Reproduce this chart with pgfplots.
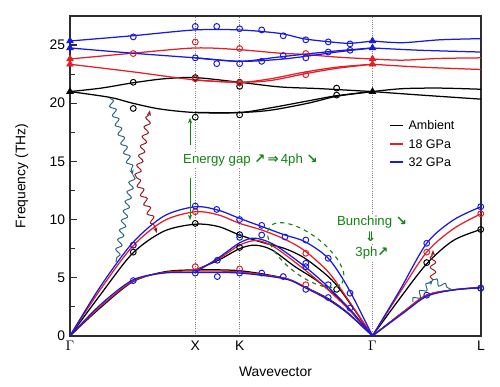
\documentclass[border=0pt]{standalone}
\usepackage{fontspec}
\setmainfont{Liberation Sans}
\newfontfamily\arrowfont{DejaVu Sans}
\usepackage{pgfplots}
\pgfplotsset{compat=1.18}
\usetikzlibrary{decorations.pathmorphing,arrows.meta,shapes.geometric}
\definecolor{cR}{RGB}{228,30,36}
\definecolor{cB}{RGB}{25,25,225}
\definecolor{cG}{RGB}{20,130,20}
\definecolor{cT}{RGB}{45,100,130}
\definecolor{cD}{RGB}{150,25,35}
\definecolor{fr}{RGB}{45,45,45}
\pgfplotsset{
 myln/.style={line width=0.9pt, smooth, no markers},
 myci/.style={only marks, mark=o, mark size=2.1pt, mark options={line width=0.7pt}},
 mytri/.style={only marks, mark=triangle*, mark size=2.8pt},
}
\tikzset{
 mywv/.style={decorate, decoration={snake, amplitude=2pt, segment length=7pt, post length=3pt}, line width=0.7pt},
 mygt/.style={fill=white, inner sep=1pt, text=cG, font=\fontsize{9.5}{11}\selectfont},
 mylg/.style={anchor=west, inner sep=0pt, font=\fontsize{9}{11}\selectfont},
}
\newcommand{\ar}[1]{{\arrowfont\bfseries #1}}
\begin{document}
\begin{tikzpicture}
\begin{scope}[x=90.244pt, y=8.378pt]
\draw[gray, densely dotted, line width=0.6pt] (1,0) -- (1,27.5);
\draw[gray, densely dotted, line width=0.6pt] (1.354,0) -- (1.354,27.5);
\draw[gray, densely dotted, line width=0.6pt] (2.414,0) -- (2.414,27.5);
\end{scope}
\begin{axis}[
 at={(0pt,0pt)}, anchor=south west,
 scale only axis, width=296pt, height=230.4pt,
 xmin=0, xmax=3.28, ymin=0, ymax=27.5,
 clip=false,
 axis line style={fr, line width=1.1pt},
 xtick={0,1,1.354,2.414,3.28},
 xticklabels={$\Gamma$,X,K,$\Gamma$,L},
 xtick style={draw=none},
 ytick={0,5,10,15,20,25},
 minor y tick num=1,
 ytick pos=left,
 tick align=inside,
 major tick length=4.8pt, minor tick length=3.4pt,
 tick style={fr, line width=0.8pt},
 tick label style={font=\fontsize{10}{12}\selectfont},
 /pgf/number format/assume math mode=true,
 xlabel={Wavevector}, ylabel={Frequency (THz)},
 label style={font=\fontsize{10}{12}\selectfont},
 xlabel style={at={(axis description cs:0.5,-0.1125)}, anchor=center},
 ylabel style={at={(axis description cs:-0.117,0.5)}, anchor=center},
]
% Ambient (black)
\addplot[myln, black] coordinates {(0,0) (0.24,3.5) (0.5,7.1) (0.75,9.0) (1,9.6) (1.184,9.4) (1.354,8.67) (1.53,8.05) (1.716,7.5) (1.875,6.67) (2.061,5.1) (2.168,3.8) (2.414,0)};
\addplot[myln, black] coordinates {(1,5.67) (1.184,6.5) (1.354,7.5) (1.476,7.8) (1.61,7.4) (1.796,5.95) (1.982,4.66) (2.168,2.95) (2.414,0)};
\addplot[myln, black] coordinates {(0,0) (0.24,2.4) (0.5,4.65) (0.75,5.5) (1,5.67) (1.354,5.6) (1.716,4.95) (1.875,4.2) (2.061,3.2) (2.221,1.95) (2.414,0)};
\addplot[myln, black] coordinates {(2.414,0) (2.631,3.2) (2.847,6.2) (3.059,8.2) (3.28,9.15)};
\addplot[myln, black] coordinates {(2.414,0) (2.665,2.1) (2.847,3.5) (3.06,3.95) (3.28,4.15)};
\addplot[myln, black] coordinates {(0,21.0) (0.25,21.3) (0.5,21.75) (0.75,22.1) (1,22.2) (1.354,21.8) (1.676,21.4) (2.0,21.25) (2.414,21.0)};
\addplot[myln, black] coordinates {(2.414,21.0) (2.65,21.25) (2.95,21.3) (3.28,21.2)};
\addplot[myln, black] coordinates {(0,21.0) (0.32,20.5) (0.5,20.0) (0.72,19.5) (1,19.2) (1.354,19.2) (1.6,19.6) (1.9,20.2) (2.13,20.65) (2.414,21.0)};
\addplot[myln, black] coordinates {(1,19.2) (1.354,19.2) (1.6,19.4) (1.9,20.0) (2.13,20.6) (2.414,21.0)};
\addplot[myln, black] coordinates {(2.414,21.0) (2.8,20.7) (3.28,20.35)};

% 18 GPa (red)
\addplot[myln, cR] coordinates {(0,0) (0.24,3.95) (0.5,7.7) (0.75,9.9) (1,10.67) (1.184,10.4) (1.354,9.67) (1.53,9.1) (1.716,8.3) (1.875,7.3) (2.061,5.5) (2.195,3.5) (2.414,0)};
\addplot[myln, cR] coordinates {(1,5.6) (1.184,6.6) (1.354,7.8) (1.49,8.2) (1.636,7.6) (1.875,5.67) (2.061,3.95) (2.25,2.0) (2.414,0)};
\addplot[myln, cR] coordinates {(0,0) (0.24,2.5) (0.5,4.7) (0.75,5.45) (1,5.58) (1.354,5.5) (1.716,4.95) (1.875,4.2) (2.061,3.15) (2.221,1.92) (2.414,0)};
\addplot[myln, cR] coordinates {(2.414,0) (2.631,3.7) (2.847,7.2) (3.059,9.2) (3.28,10.5)};
\addplot[myln, cR] coordinates {(2.414,0) (2.665,2.1) (2.847,3.5) (3.06,3.97) (3.28,4.18)};
\addplot[myln, cR] coordinates {(0,23.8) (0.5,24.3) (1,24.75) (1.354,24.6) (1.676,24.3) (1.86,24.2) (2.15,23.95) (2.414,23.8)};
\addplot[myln, cR] coordinates {(2.414,23.8) (2.65,23.7) (2.95,23.85) (3.28,23.9)};
\addplot[myln, cR] coordinates {(0,23.35) (0.5,22.7) (1,22.0) (1.354,21.8) (1.6,21.95) (1.86,22.5) (2.13,23.0) (2.414,23.35)};
\addplot[myln, cR] coordinates {(1,22.0) (1.354,21.8) (1.6,22.1) (1.86,22.65) (2.13,23.1) (2.414,23.35)};
\addplot[myln, cR] coordinates {(2.414,23.35) (2.8,23.1) (3.28,22.9)};

% 32 GPa (blue)
\addplot[myln, cB] coordinates {(0,0) (0.24,4.2) (0.5,8.0) (0.75,10.3) (1,11.1) (1.184,10.8) (1.354,10.1) (1.53,9.4) (1.716,8.67) (1.875,8.1) (2.061,6.67) (2.221,4.1) (2.414,0)};
\addplot[myln, cB] coordinates {(1,5.45) (1.184,6.7) (1.354,8.0) (1.476,8.4) (1.636,7.8) (1.875,5.95) (2.061,4.2) (2.25,2.1) (2.414,0)};
\addplot[myln, cB] coordinates {(0,0) (0.24,2.65) (0.5,4.8) (0.75,5.4) (1,5.45) (1.354,5.4) (1.716,4.9) (1.875,4.15) (2.061,3.1) (2.221,1.9) (2.414,0)};
\addplot[myln, cB] coordinates {(2.414,0) (2.631,3.9) (2.847,7.96) (3.059,9.96) (3.28,11.1)};
\addplot[myln, cB] coordinates {(2.414,0) (2.665,2.0) (2.847,3.4) (3.06,3.95) (3.28,4.15)};
\addplot[myln, cB] coordinates {(0,25.35) (0.5,25.8) (1,26.3) (1.354,26.3) (1.676,26.0) (1.86,25.55) (2.05,25.3) (2.23,25.15) (2.414,25.35)};
\addplot[myln, cB] coordinates {(2.414,25.35) (2.65,25.2) (2.95,25.45) (3.28,25.55)};
\addplot[myln, cB] coordinates {(0,24.75) (0.5,24.3) (1,23.9) (1.354,23.6) (1.65,23.75) (1.86,24.0) (2.13,24.4) (2.414,24.75)};
\addplot[myln, cB] coordinates {(1,23.9) (1.354,23.6) (1.65,23.95) (1.86,24.2) (2.13,24.5) (2.414,24.75)};
\addplot[myln, cB] coordinates {(2.414,24.75) (2.8,24.55) (3.28,24.4)};

% experimental points
\addplot[myci, black] coordinates {(0.505,21.8) (0.505,19.55) (1,22.2) (1,18.8) (1.354,21.8) (1.354,21.45) (1.354,19.0) (2.128,21.3) (2.128,20.7) (1,9.67) (1.354,8.7) (1.354,7.6) (2.128,4.0) (2.847,6.3) (3.278,9.15) (3.278,4.1) (0.505,7.2)};
\addplot[myci, cR] coordinates {(0.505,24.27) (1,25.26) (1,22.1) (1.354,24.7) (1.354,21.75) (1.882,24.27) (1.882,22.45) (1,10.67) (1,5.95) (1.354,5.75) (1.882,7.1) (1.882,4.4) (0.505,7.8) (2.847,7.2) (3.278,10.5)};
\addplot[myci, cB] coordinates {(0.505,25.7) (1,26.6) (1.171,26.6) (1.354,26.4) (1.53,26.3) (1,23.9) (1.171,23.4) (1.354,23.4) (1.53,23.6) (1.702,25.8) (1.882,25.45) (2.061,25.27) (2.235,25.1) (1.702,24.1) (1.882,23.9) (2.061,24.4) (2.235,24.55) (1,11.16) (1.171,10.87) (1.354,10.0) (1.53,9.5) (1.354,8.47) (1.53,8.67) (1.716,8.5) (1.882,8.24) (2.061,6.67) (1.882,6.24) (1.882,5.95) (2.061,4.4) (2.235,3.67) (2.061,3.3) (2.235,2.4) (1.176,6.5) (1.176,5.1) (1.53,5.4) (1.702,5.1) (1,5.4) (1.354,5.4) (1.882,4.0) (0.505,4.75) (0.505,7.8) (2.847,7.96) (2.847,3.5) (3.278,4.1) (3.278,11.1)};
\addplot[mytri, black] coordinates {(0,21.0) (2.414,21.0)};
\addplot[mytri, cR] coordinates {(0,23.8) (0,23.35) (2.414,23.8) (2.414,23.35)};
\addplot[mytri, cB] coordinates {(0,25.35) (0,24.75) (2.414,25.35) (2.414,24.75)};
\end{axis}
\begin{scope}[x=90.244pt, y=8.378pt]
% legend
\draw[black, line width=0.9pt] (2.554,18.1) -- (2.658,18.1);
\node[mylg] at (2.70,18.1) {Ambient};
\draw[cR, line width=0.9pt] (2.554,16.5) -- (2.658,16.5);
\node[mylg] at (2.70,16.5) {18 GPa};
\draw[cB, line width=0.9pt] (2.554,14.94) -- (2.658,14.94);
\node[mylg] at (2.70,14.94) {32 GPa};
% annotations
\node[mygt] at (1.44,15.1) {Energy gap \ar{↗}\,\ar{⇒}\,4ph \ar{↘}};
\node[mygt] at (2.41,9.8) {Bunching \ar{↘}};
\node[mygt] at (2.40,8.5) {\ar{⇓}};
\node[mygt] at (2.41,7.1) {3ph\ar{↗}};
\draw[cG, line width=0.7pt, -{Stealth[length=4pt]}] (0.958,16.4) -- (0.958,18.75);
\draw[cG, line width=0.7pt, -{Stealth[length=4pt]}] (0.958,13.6) -- (0.958,9.95);
\node[draw=cG, dashed, line width=0.8pt, ellipse, rotate=-38, minimum width=66pt, minimum height=29pt, inner sep=0pt] at (1.882,6.95) {};
\draw[mywv, cT, -{Stealth[length=4pt]}] (0.319,20.43) -- (0.503,13.82);
\draw[mywv, cT] (0.503,13.82) -- (0.367,6.35);
\draw[mywv, cD, -{Stealth[length=4pt]}] (0.535,13.56) -- (0.638,19.4);
\draw[mywv, cD, -{Stealth[length=4pt]}] (0.535,13.56) -- (0.694,8.84);
\draw[mywv, cT, -{Stealth[length=4pt]}] (2.737,2.92) -- (2.897,4.81);
\draw[mywv, cD, -{Stealth[length=4pt]}] (2.897,4.81) -- (2.897,7.38);
\draw[mywv, cT] (2.897,4.81) -- (3.049,3.95);
\end{scope}
\pgfresetboundingbox
\path (-50.4pt,-36.7pt) rectangle (309.7pt,241.9pt);
\end{tikzpicture}
\end{document}
